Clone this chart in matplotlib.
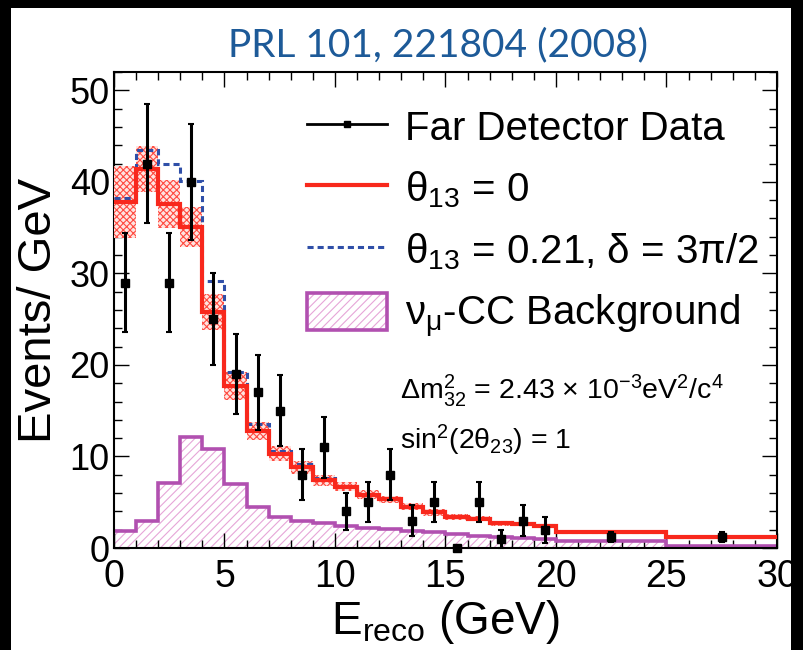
import numpy as np
import matplotlib.pyplot as plt
from matplotlib.patches import Patch, Rectangle
from matplotlib.lines import Line2D
from matplotlib.ticker import MultipleLocator

plt.rcParams['font.family'] = ['Liberation Sans', 'DejaVu Sans']
plt.rcParams['mathtext.fontset'] = 'custom'
plt.rcParams['mathtext.rm'] = 'Liberation Sans'
plt.rcParams['mathtext.default'] = 'regular'
plt.rcParams['hatch.linewidth'] = 0.8

# bin edges (GeV): 1 GeV bins up to 20, then 20-25 and 25-30
edges = [0, 1, 2, 3, 4, 5, 6, 7, 8, 9, 10, 11, 12, 13, 14, 15, 16, 17, 18, 19, 20, 25, 30]

# far detector data (events / GeV) and errors
data = [29, 42, 29, 40, 25, 19, 17, 15, 8, 11, 4, 5, 8, 3, 5, 0, 5, 1, 3, 2, 1.2, 1.2]
data_err = [5.4, 6.5, 5.4, 6.3, 5.0, 4.4, 4.1, 3.9, 2.8, 3.3, 2.0, 2.2, 2.8, 1.7, 2.2, 0,
            2.2, 1.0, 1.7, 1.4, 0.5, 0.5]

# prediction theta13 = 0 and its systematic band
pred0 = [37.8, 41.4, 37.6, 35.1, 25.8, 17.7, 12.8, 10.3, 8.8, 7.4, 6.7, 5.8, 5.3, 4.5,
         3.9, 3.4, 3.2, 2.7, 2.6, 2.4, 1.7, 1.2]
band = [3.9, 2.5, 2.6, 2.2, 2.0, 1.5, 1.0, 0.8, 0.7, 0.6, 0.5, 0.5, 0.4, 0.4,
        0.35, 0.3, 0.3, 0.25, 0.25, 0.2, 0.1, 0.1]

# prediction theta13 = 0.21, delta = 3pi/2
pred21 = [38.2, 43.5, 42.0, 40.1, 29.2, 19.2, 13.6, 10.6, 9.2, 7.6, 6.8, 5.9, 5.4, 4.6,
          4.0, 3.5, 3.3, 2.8, 2.7, 2.5, 1.7, 1.2]

# numu-CC background
bkg = [1.9, 2.9, 7.1, 12.1, 10.8, 7.0, 4.5, 3.4, 3.0, 2.7, 2.4, 2.2, 2.1, 1.9,
       1.7, 1.5, 1.35, 1.2, 1.05, 0.95, 0.75, 0.2]

edges = np.array(edges)
centers = 0.5 * (edges[:-1] + edges[1:])
pred0 = np.array(pred0)
band = np.array(band)

red = '#f8281c'
blue = '#2f4fa8'
purple = '#b150b0'
pink = '#e6a6d8'

fig = plt.figure(figsize=(8.04, 6.5), dpi=100, facecolor='black')
fig.patches.append(Rectangle((11 / 804, 0), 780 / 804, 642 / 650, transform=fig.transFigure,
                             facecolor='white', edgecolor='none', zorder=-10))
ax = fig.add_axes([114 / 804, 1 - 548 / 650, 663 / 804, 476 / 650])

# background
ax.stairs(bkg, edges, fill=True, facecolor='white', edgecolor=pink, hatch='////', lw=0, zorder=1)
ax.stairs(bkg, edges, baseline=None, color=purple, lw=2.6, zorder=2)

# systematic band
ax.stairs(pred0 + band, edges, baseline=pred0 - band, fill=True, facecolor='#ffe4e0',
          edgecolor='#ff4a40', hatch='xxxxx', lw=0, zorder=3)

ax.stairs(pred21, edges, baseline=None, color=blue, lw=2.2, ls=(0, (2, 1.3)), zorder=4)
ax.stairs(pred0, edges, baseline=None, color=red, lw=3, zorder=5)

ax.errorbar(centers, data, yerr=data_err, fmt='s', color='black', ms=6, elinewidth=2.2,
            capsize=2.5, capthick=1.5, zorder=6, clip_on=False)

ax.set_xlim(0, 30)
ax.set_ylim(0, 52)
ax.xaxis.set_major_locator(MultipleLocator(5))
ax.xaxis.set_minor_locator(MultipleLocator(1))
ax.yaxis.set_major_locator(MultipleLocator(10))
ax.yaxis.set_minor_locator(MultipleLocator(2))
ax.tick_params(which='both', direction='in', top=True, right=True, width=1)
ax.tick_params(which='major', length=11)
ax.tick_params(which='minor', length=5.5)
ax.tick_params(axis='x', labelsize=27, pad=8)
ax.tick_params(axis='y', labelsize=26, pad=3)
for s in ax.spines.values():
    s.set_linewidth(1.5)

ax.set_xlabel('E$_{reco}$ (GeV)', fontsize=33, labelpad=2)
ax.set_ylabel('Events/ GeV', fontsize=34, labelpad=6)

fig.text(0.545, 0.93, 'PRL 101, 221804 (2008)', fontsize=28, color='#1d5a98',
         family=['Lato', 'DejaVu Sans'], ha='center', va='center')

h_data = Line2D([], [], color='black', lw=2, marker='s', ms=5)
h_red = Line2D([], [], color=red, lw=3)
h_blue = Line2D([], [], color=blue, lw=2.2, ls=(0, (2, 1.3)))
h_bkg = (Patch(facecolor='white', edgecolor=pink, hatch='////', lw=0),
         Patch(facecolor='none', edgecolor=purple, lw=2.6))
ax.legend([h_data, h_red, h_blue, h_bkg],
          ['Far Detector Data', 'θ$_{13}$ = 0', 'θ$_{13}$ = 0.21, δ = 3π/2',
           'ν$_{μ}$-CC Background'],
          loc='upper left', bbox_to_anchor=(0.291, 0.925), fontsize=29, frameon=False,
          borderpad=0, borderaxespad=0, handlelength=2.0, handleheight=1.05,
          handletextpad=0.44, labelspacing=0.52, numpoints=1)

ax.text(0.431, 0.33, 'Δm$^{2}_{32}$ = 2.43 × 10$^{-3}$eV$^{2}$/c$^{4}$', transform=ax.transAxes,
        fontsize=20.5, va='center', ha='left')
ax.text(0.431, 0.226, 'sin$^{2}$(2θ$_{23}$) = 1', transform=ax.transAxes,
        fontsize=20.5, va='center', ha='left')

fig.savefig('out.png', dpi=100, facecolor=fig.get_facecolor())
